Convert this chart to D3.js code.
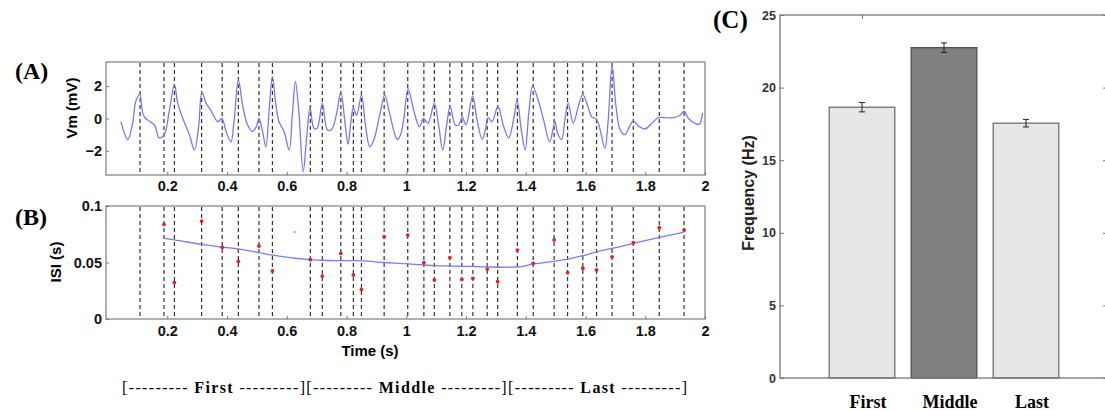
<!DOCTYPE html>
<html lang="en">
<head>
  <meta charset="UTF-8">
  <script src="https://cdn.jsdelivr.net/npm/d3@7"></script>
  <title>Spike ISI and frequency</title>
  <style>
    body { margin: 0; background: #fff; }
    .tick text { font-family: "Liberation Sans", Arial, sans-serif; font-weight: bold; fill: #111; }
    .tick line { stroke: #777; }
  </style>
</head>
<body>
  <svg width="1105" height="411"></svg>
  <script>
    // spike times (s) - dashed lines in A and B
    var spikeTimes = [0.109, 0.189, 0.224, 0.315, 0.384, 0.438, 0.507, 0.552, 0.679, 0.719,
      0.781, 0.823, 0.850, 0.926, 1.005, 1.059, 1.094, 1.146, 1.186, 1.223,
      1.271, 1.306, 1.372, 1.425, 1.495, 1.540, 1.591, 1.637, 1.689, 1.760, 1.847, 1.930];

    // membrane potential trace (A)
    var vmTime = [0.045, 0.068, 0.084, 0.093, 0.100, 0.108, 0.120, 0.135, 0.157, 0.173, 0.190, 0.207,
      0.224, 0.235, 0.252, 0.274, 0.291, 0.305, 0.316, 0.330, 0.346, 0.369, 0.383, 0.397, 0.413,
      0.424, 0.438, 0.453, 0.469, 0.486, 0.497, 0.507, 0.518, 0.530, 0.541, 0.552, 0.563, 0.574,
      0.591, 0.608, 0.619, 0.629, 0.641, 0.655, 0.667, 0.678, 0.691, 0.702, 0.719, 0.736, 0.749,
      0.767, 0.781, 0.794, 0.805, 0.814, 0.823, 0.834, 0.850, 0.864, 0.878, 0.892, 0.912, 0.928,
      0.942, 0.959, 0.970, 0.981, 0.992, 1.006, 1.025, 1.044, 1.058, 1.073, 1.094, 1.109, 1.122,
      1.136, 1.147, 1.164, 1.176, 1.187, 1.200, 1.222, 1.237, 1.254, 1.265, 1.274, 1.287, 1.307,
      1.326, 1.343, 1.360, 1.371, 1.385, 1.398, 1.410, 1.423, 1.443, 1.460, 1.480, 1.498, 1.506,
      1.520, 1.531, 1.542, 1.559, 1.576, 1.591, 1.606, 1.621, 1.637, 1.649, 1.665, 1.676, 1.689,
      1.702, 1.716, 1.732, 1.747, 1.760, 1.777, 1.799, 1.822, 1.844, 1.866, 1.894, 1.916, 1.930,
      1.945, 1.967, 1.981, 1.992];
    var vmValues = [-0.2, -1.3, -0.3, 0.95, 1.3, 1.5, 0.2, -0.1, -0.4, -1.2, -1.0, 0.5,
      2.1, 0.95, 0, -1.0, -1.95, -0.5, 1.65, 0.95, 0.5, -0.2, 0, -0.8, -1.45,
      -0.1, 2.4, 0.75, -0.4, -0.8, -0.55, 0, -0.7, -1.75, 0.5, 2.6, 0.95, -0.2,
      -0.8, -1.95, 0.3, 2.3, 0.3, -3.3, -1.1, 0.65, -0.6, -0.6, 0.95, -0.7, -0.7,
      0.3, 1.65, -0.1, -1.6, -0.3, 0.65, 0.2, 1.45, -0.5, -1.75, -1.3, 0.3, 1.45,
      0.5, -0.8, -1.3, -1.0, 0.0, 1.85, 0.5, -0.5, 0, -0.3, 0.95, -0.5, -1.95,
      -0.3, 0.75, -0.4, -0.4, 0.1, -0.4, 1.4, -0.1, -1.3, -0.7, 0.05, -0.2, 0.75,
      -0.5, -1.2, 0, 1.15, -0.7, -1.95, 0.3, 2.0, 1.05, -0.1, -1.45, -0.2, -0.9,
      -1.3, -0.1, 0.95, -0.3, 0.75, 1.5, 0.85, 0.1, -0.05, -0.7, -1.85, -0.1, 3.3,
      0.75, -0.7, -1.0, -0.5, -0.15, -0.45, -0.65, -0.3, 0.05, 0.05, 0.05, 0.2, 0.45,
      0, -0.3, -0.35, 0.35];

    // inter-spike intervals (B), one per spike from the second spike on
    var isiValues = [0.0838, 0.0322, 0.0867, 0.0634, 0.051, 0.0646, 0.0425, 0.0525, 0.038,
      0.058, 0.039, 0.026, 0.0728, 0.0743, 0.0498, 0.0345, 0.0543, 0.035, 0.036,
      0.0442, 0.033, 0.061, 0.0493, 0.070, 0.041, 0.045, 0.0434, 0.055, 0.0675, 0.0808, 0.0788];
    // smoothed ISI trend (B)
    var isiTrend = [0.0714, 0.070, 0.066, 0.0635, 0.062, 0.0587, 0.0565, 0.0525, 0.052,
      0.0516, 0.0516, 0.0515, 0.050, 0.0487, 0.0478, 0.0472, 0.0469, 0.0467, 0.0465,
      0.0462, 0.0458, 0.046, 0.0487, 0.051, 0.053, 0.056, 0.0595, 0.0625, 0.067, 0.0722, 0.0768];
    // faint stray point in B
    var faintTime = [0.626];
    var faintIsi = [0.077];

    // frequency per segment (C)
    var segments = ["First", "Middle", "Last"];
    var freqMean = [18.65, 22.75, 17.55];
    var freqErr = [0.32, 0.33, 0.26];

    var timeTicks = [0.2, 0.4, 0.6, 0.8, 1, 1.2, 1.4, 1.6, 1.8, 2];
    var vmTicks = [-2, 0, 2];
    var isiTicks = [0, 0.05, 0.1];
    var freqTicks = [0, 5, 10, 15, 20, 25];

    var sans = '"Liberation Sans", Arial, sans-serif';
    var serif = '"Liberation Serif", "Times New Roman", serif';

    var svg = d3.select("svg");

    var x = d3.scaleLinear().domain([0, 2]).range([107.5, 705]);
    var yA = d3.scaleLinear().domain([-3.5, 3.5]).range([175, 62]);
    var yB = d3.scaleLinear().domain([0, 0.1]).range([319, 206]);

    function box(yScale) {
      svg.append("rect")
        .attr("x", 106).attr("y", yScale.range()[1])
        .attr("width", 705 - 106).attr("height", yScale.range()[0] - yScale.range()[1])
        .attr("fill", "none").attr("stroke", "#888").attr("stroke-width", 1.3);
    }

    function spikeLines(yScale) {
      svg.append("g").selectAll("line")
        .data(spikeTimes)
        .enter().append("line")
        .attr("x1", d => x(d)).attr("x2", d => x(d))
        .attr("y1", yScale.range()[1] + 1).attr("y2", yScale.range()[0] - 1)
        .attr("stroke", "#333").attr("stroke-width", 1.2)
        .attr("stroke-dasharray", "4,3");
    }

    function axes(yScale, yTicks, xPad) {
      var gx = svg.append("g")
        .attr("transform", "translate(0," + yScale.range()[0] + ")")
        .call(d3.axisBottom(x).tickValues(timeTicks).tickFormat(d3.format("~g")).tickSize(-3).tickPadding(xPad));
      gx.select(".domain").remove();
      gx.selectAll("text").style("font-size", "14.5px");

      var gy = svg.append("g")
        .attr("transform", "translate(106,0)")
        .call(d3.axisLeft(yScale).tickValues(yTicks).tickFormat(d3.format("~g")).tickSize(-3).tickPadding(4));
      gy.select(".domain").remove();
      gy.selectAll("text").style("font-size", "14.5px");
    }

    // ---- panel A ----
    spikeLines(yA);
    var vmLine = d3.line()
      .x((d, i) => x(vmTime[i]))
      .y(d => yA(d))
      .curve(d3.curveCatmullRom.alpha(0.5));
    svg.append("path")
      .attr("d", vmLine(vmValues))
      .attr("fill", "none").attr("stroke", "#7878f2").attr("stroke-width", 1.3);
    box(yA);
    axes(yA, vmTicks, 6);

    // ---- panel B ----
    spikeLines(yB);
    var isiTimes = spikeTimes.slice(1);
    var trendLine = d3.line()
      .x((d, i) => x(isiTimes[i]))
      .y(d => yB(d))
      .curve(d3.curveMonotoneX);
    svg.append("path")
      .attr("d", trendLine(isiTrend))
      .attr("fill", "none").attr("stroke", "#7c7cf0").attr("stroke-width", 1.3);
    svg.append("g").selectAll("circle")
      .data(isiValues)
      .enter().append("circle")
      .attr("cx", (d, i) => x(isiTimes[i]))
      .attr("cy", d => yB(d))
      .attr("r", 1.9)
      .attr("fill", "#e02424");
    svg.append("g").selectAll("circle")
      .data(faintIsi)
      .enter().append("circle")
      .attr("cx", (d, i) => x(faintTime[i]))
      .attr("cy", d => yB(d))
      .attr("r", 1.3)
      .attr("fill", "#f0a0a0");
    box(yB);
    axes(yB, isiTicks, 7);

    // labels A / B
    svg.append("text").attr("x", 15).attr("y", 79)
      .style("font-family", serif).style("font-weight", "bold").style("font-size", "24px")
      .text("(A)");
    svg.append("text").attr("x", 15).attr("y", 225)
      .style("font-family", serif).style("font-weight", "bold").style("font-size", "24px")
      .text("(B)");
    svg.append("text")
      .attr("transform", "translate(77,108) rotate(-90)")
      .attr("text-anchor", "middle")
      .style("font-family", sans).style("font-weight", "bold").style("font-size", "15px")
      .text("Vm (mV)");
    svg.append("text")
      .attr("transform", "translate(61,262) rotate(-90)")
      .attr("text-anchor", "middle")
      .style("font-family", sans).style("font-weight", "bold").style("font-size", "15px")
      .text("ISI (s)");
    svg.append("text")
      .attr("x", 370).attr("y", 356)
      .attr("text-anchor", "middle")
      .style("font-family", sans).style("font-weight", "bold").style("font-size", "15px")
      .text("Time (s)");

    svg.append("text")
      .attr("x", 122).attr("y", 393)
      .attr("textLength", 565).attr("lengthAdjust", "spacing")
      .style("font-family", serif).style("font-size", "16px")
      .html('[--------- <tspan font-weight="bold">First</tspan> ---------][--------- <tspan font-weight="bold">Middle</tspan> ---------][--------- <tspan font-weight="bold">Last</tspan> ---------]');

    // ---- panel C ----
    var xC = d3.scaleLinear().domain([0, 4]).range([780, 1108]);
    var yC = d3.scaleLinear().domain([0, 25]).range([378, 15]);
    var barW = xC(0.8) - xC(0);

    svg.append("g").selectAll("rect")
      .data(freqMean)
      .enter().append("rect")
      .attr("x", (d, i) => xC(i + 1) - barW / 2)
      .attr("y", d => yC(d))
      .attr("width", barW)
      .attr("height", d => yC(0) - yC(d))
      .attr("fill", (d, i) => i === 1 ? "#808080" : "#e6e6e6")
      .attr("stroke", (d, i) => i === 1 ? "#4f4f4f" : "#707070")
      .attr("stroke-width", 1.3);

    var eb = svg.append("g").selectAll("g")
      .data(freqMean)
      .enter().append("g")
      .attr("stroke", "#222").attr("stroke-width", 1);
    eb.append("line")
      .attr("x1", (d, i) => xC(i + 1)).attr("x2", (d, i) => xC(i + 1))
      .attr("y1", (d, i) => yC(d - freqErr[i])).attr("y2", (d, i) => yC(d + freqErr[i]));
    eb.append("line")
      .attr("x1", (d, i) => xC(i + 1) - 3).attr("x2", (d, i) => xC(i + 1) + 3)
      .attr("y1", (d, i) => yC(d + freqErr[i])).attr("y2", (d, i) => yC(d + freqErr[i]));
    eb.append("line")
      .attr("x1", (d, i) => xC(i + 1) - 3).attr("x2", (d, i) => xC(i + 1) + 3)
      .attr("y1", (d, i) => yC(d - freqErr[i])).attr("y2", (d, i) => yC(d - freqErr[i]));

    // frame
    svg.append("rect")
      .attr("x", 780).attr("y", 15).attr("width", 1108 - 780).attr("height", 378 - 15)
      .attr("fill", "none").attr("stroke", "#777").attr("stroke-width", 1.3);

    var gyC = svg.append("g")
      .attr("transform", "translate(780,0)")
      .call(d3.axisLeft(yC).tickValues(freqTicks).tickSize(-4).tickPadding(4));
    gyC.select(".domain").remove();
    gyC.selectAll("text").style("font-size", "12.5px").style("fill", "#333");

    var gyR = svg.append("g")
      .attr("transform", "translate(1108,0)")
      .call(d3.axisRight(yC).tickValues(freqTicks).tickSize(-5).tickFormat(""));
    gyR.select(".domain").remove();

    var gxTop = svg.append("g")
      .attr("transform", "translate(0,15)")
      .call(d3.axisTop(xC).tickValues([1]).tickSize(-4).tickFormat(""));
    gxTop.select(".domain").remove();

    svg.append("g").selectAll("text")
      .data(segments)
      .enter().append("text")
      .attr("x", (d, i) => xC(i + 1) + 6)
      .attr("y", 408)
      .attr("text-anchor", "middle")
      .style("font-family", serif).style("font-weight", "bold").style("font-size", "18px")
      .text(d => d);

    svg.append("text")
      .attr("transform", "translate(754,193) rotate(-90)")
      .attr("text-anchor", "middle")
      .style("font-family", sans).style("font-weight", "bold").style("font-size", "16px")
      .style("fill", "#222")
      .text("Frequency (Hz)");

    svg.append("text").attr("x", 713).attr("y", 28)
      .style("font-family", serif).style("font-weight", "bold").style("font-size", "25px")
      .text("(C)");
  </script>
</body>
</html>
